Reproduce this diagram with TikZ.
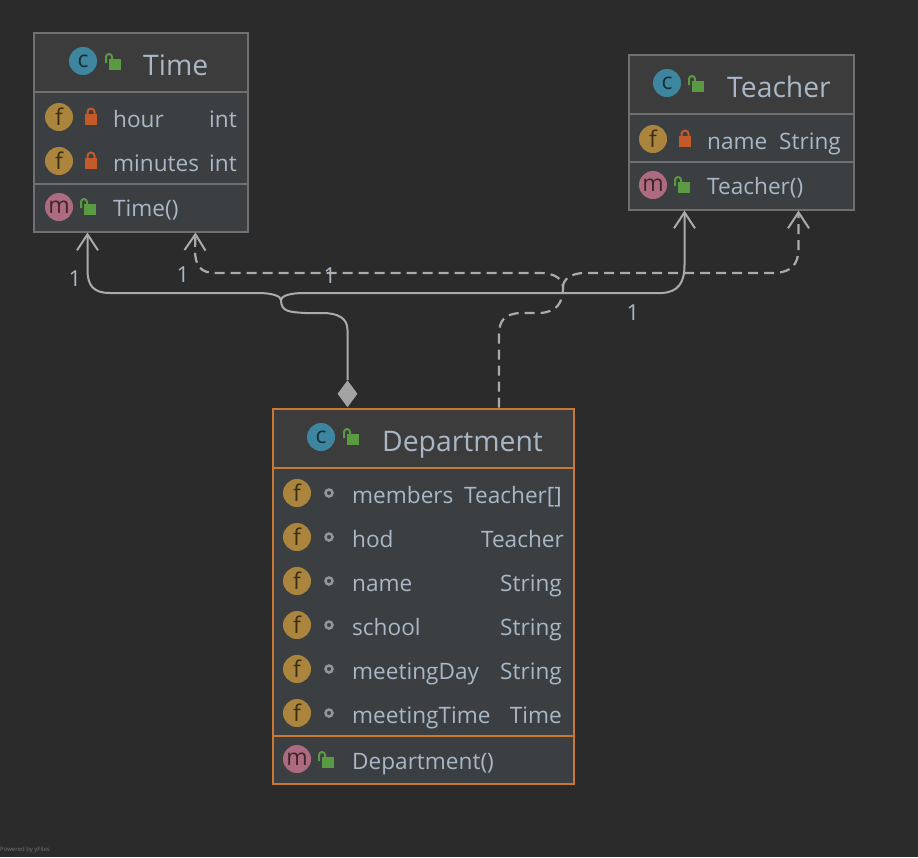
\documentclass[tikz,border=0pt]{standalone}
\usepackage{fontspec}
\setmainfont{Open Sans}
\usetikzlibrary{arrows.meta, positioning, shapes.geometric, calc}

\definecolor{canvasbg}{HTML}{2B2B2B}
\definecolor{headbg}{HTML}{3C3C3C}
\definecolor{rowbg}{HTML}{3C3F41}
\definecolor{edgegray}{HTML}{707070}
\definecolor{edgeorange}{HTML}{C87832}
\definecolor{linkgray}{HTML}{ABABAB}
\definecolor{labelblue}{HTML}{A9B7C6}
\definecolor{iconc}{HTML}{3E86A0}
\definecolor{iconf}{HTML}{AB853D}
\definecolor{iconm}{HTML}{AE6B80}
\definecolor{lockred}{HTML}{C4592A}
\definecolor{lockgreen}{HTML}{5A9A42}
\definecolor{dotgray}{HTML}{8F979C}

\tikzset{
    classbox/.style={draw=edgegray, line width=2pt, anchor=north west, inner sep=0pt},
    badge/.style={circle, minimum size=28pt, inner sep=0pt, text=black, text opacity=0.65, font=\fontsize{23}{23}\selectfont},
    titletext/.style={anchor=base west, inner sep=0pt, text=labelblue, font=\fontsize{28.3}{28.3}\selectfont},
    rowtext/.style={anchor=base west, inner sep=0pt, text=labelblue, font=\fontsize{22.6}{22.6}\selectfont},
    typetext/.style={anchor=base east, inner sep=0pt, text=labelblue, font=\fontsize{22.6}{22.6}\selectfont},
    multitext/.style={inner sep=0pt, text=labelblue, font=\fontsize{22}{22}\selectfont},
    solidlink/.style={draw=linkgray, line width=2pt},
    dashlink/.style={draw=linkgray, line width=2.2pt, dash pattern=on 10pt off 6pt},
    openhead/.style={-{Straight Barb[length=16pt, width=21pt, line width=2pt]}},
    closedlock/.pic={
        \fill[lockred] (-6,-5.5) rectangle (6,5.5);
        \draw[lockred, line width=2pt] (-3.5,-5) -- (-3.5,-7) arc (180:360:3.5) -- (3.5,-5);
    },
    openlock/.pic={
        \fill[lockgreen] (-6,-5.5) rectangle (6,5.5);
        \draw[lockgreen, line width=2pt] (-9,-1) -- (-9,-7) arc (180:360:3) -- (-3,-5);
    },
    pkgdot/.pic={
        \draw[dotgray, line width=2.5pt] (0,0) circle (3.5);
    },
}

\begin{document}
\begin{tikzpicture}[x=1pt, y=-1pt]
    \useasboundingbox (0,0) rectangle (918,857);
    \fill[canvasbg] (0,0) rectangle (918,857);

    % Time class
    \fill[headbg] (34,33) rectangle (247,92);
    \fill[rowbg] (34,92) rectangle (247,231);
    \node[classbox, minimum width=214pt, minimum height=199pt] (time) at (32.5,31.5) {};
    \draw[edgegray, line width=2pt] (33,92) -- (248,92);
    \draw[edgegray, line width=2pt] (33,184) -- (248,184);
    \node[badge, fill=iconc] (timeC) at (83,61) {c};
    \pic at (115,64) {openlock};
    \node[titletext] (timeTitle) at (143,75) {Time};
    \node[badge, fill=iconf] (timeF1) at (59,117) {f};
    \pic at (91,119) {closedlock};
    \node[rowtext] (timeHour) at (113,127) {hour};
    \node[typetext] (timeHourT) at (237,127) {int};
    \node[badge, fill=iconf] (timeF2) at (59,161) {f};
    \pic at (91,163) {closedlock};
    \node[rowtext] (timeMin) at (113,171) {minutes};
    \node[typetext] (timeMinT) at (237,171) {int};
    \node[badge, fill=iconm] (timeM) at (59,207) {m};
    \pic at (90,209) {openlock};
    \node[rowtext] (timeCtor) at (113,216) {Time()};

    % Teacher class
    \fill[headbg] (629,55) rectangle (853,114);
    \fill[rowbg] (629,114) rectangle (853,209);
    \node[classbox, minimum width=225pt, minimum height=155pt] (teacher) at (627.5,53.5) {};
    \draw[edgegray, line width=2pt] (628,114) -- (854,114);
    \draw[edgegray, line width=2pt] (628,162) -- (854,162);
    \node[badge, fill=iconc] (teacherC) at (667,83) {c};
    \pic at (698,86) {openlock};
    \node[titletext] (teacherTitle) at (727,97) {Teacher};
    \node[badge, fill=iconf] (teacherF) at (653,139) {f};
    \pic at (685,141) {closedlock};
    \node[rowtext] (teacherName) at (707,149) {name};
    \node[typetext] (teacherNameT) at (841,149) {String};
    \node[badge, fill=iconm] (teacherM) at (653,185) {m};
    \pic at (684,187) {openlock};
    \node[rowtext] (teacherCtor) at (707,194) {Teacher()};

    % Department class
    \fill[headbg] (273,409) rectangle (573,468);
    \fill[rowbg] (273,468) rectangle (573,783);
    \node[classbox, draw=edgeorange, minimum width=301pt, minimum height=375pt] (dept) at (271.5,407.5) {};
    \draw[edgeorange, line width=2pt] (272,468) -- (574,468);
    \draw[edgeorange, line width=2pt] (272,736) -- (574,736);
    \node[badge, fill=iconc] (deptC) at (321,437) {c};
    \pic at (353,439) {openlock};
    \node[titletext] (deptTitle) at (382,451) {Department};
    \foreach \idx/\yy/\fname/\ftype/\xend in {1/493/members/Teacher[]/562, 2/537/hod/Teacher/564, 3/581/name/String/562, 4/625/school/String/562, 5/669/meetingDay/String/562, 6/713/meetingTime/Time/562} {
        \node[badge, fill=iconf] (deptF\idx) at (297,\yy) {f};
        \pic at (329,\yy) {pkgdot};
        \node[rowtext] (deptName\idx) at (352,\yy+10) {\fname};
        \node[typetext] (deptType\idx) at (\xend,\yy+10) {\ftype};
    }
    \node[badge, fill=iconm] (deptM) at (297,759) {m};
    \pic at (328,762) {openlock};
    \node[rowtext] (deptCtor) at (352,769) {Department()};

    % Link end points
    \node[diamond, fill=linkgray!110, inner sep=0pt, minimum width=20pt, minimum height=27pt, anchor=south] (compHead) at ([xshift=76pt]dept.north west) {};
    \coordinate (useStart) at ([xshift=227.5pt]dept.north west);
    \coordinate (timeComp) at ([xshift=55pt]time.south west);
    \coordinate (timeUse) at ([xshift=163pt]time.south west);
    \coordinate (teacherComp) at ([xshift=57pt]teacher.south west);
    \coordinate (teacherUse) at ([xshift=171pt]teacher.south west);

    % Composition links
    \draw[solidlink, openhead] (compHead.north) -- (347.5,330) .. controls (347.5,318) and (338,313) .. (322,313) -- (305,313) .. controls (290,312) and (281,312) .. (281,300) .. controls (281,296) and (272,293) .. (258,293) -- (110,293) .. controls (93,293) and (87.5,285) .. (87.5,270) -- (timeComp);
    \draw[solidlink, openhead] (281,300) .. controls (281,296) and (290,293) .. (304,293) -- (662,293) .. controls (678,292) and (684.5,283) .. (684.5,265) -- (teacherComp);

    % Dependency links
    \draw[dashlink, openhead] (useStart) -- (499,335) .. controls (499,320) and (505,314) .. (520,313) -- (540,313) .. controls (556,312) and (563,304) .. (563,287) .. controls (563,280) and (556,273) .. (540,273) -- (215,273) .. controls (201,273) and (195,266) .. (195,250) -- (timeUse);
    \draw[dashlink, openhead] (563,287) .. controls (563,280) and (570,273) .. (585,273) -- (775,273) .. controls (791,272) and (798.5,265) .. (798.5,248) -- (teacherUse);

    % Multiplicities
    \node[multitext] (multA) at (75,279) {1};
    \node[multitext] (multB) at (183,275) {1};
    \node[multitext] (multC) at (330,276) {1};
    \node[multitext] (multD) at (633,313) {1};

    \node[anchor=base west, inner sep=0pt, text=white!35!canvasbg, font=\fontsize{6}{6}\selectfont] (poweredBy) at (0,851) {Powered by yFiles};
\end{tikzpicture}
\end{document}
